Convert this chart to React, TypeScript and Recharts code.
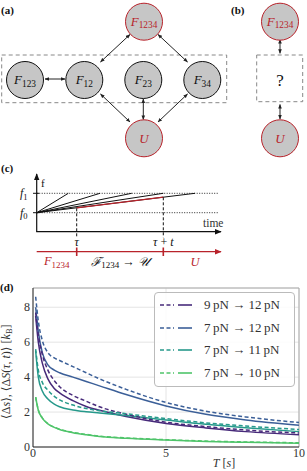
import React from 'react';
import { LineChart, Line, XAxis, YAxis, CartesianGrid, Legend, ReferenceLine } from 'recharts';

// ---- Panel (d) data ----
const T = [0.1, 0.2, 0.35, 0.56, 0.8, 1, 1.5, 2, 2.5, 3.5, 5, 6.5, 8, 10];
const purpleSolid = [7.5, 6.0, 4.8, 3.9, 3.35, 3.1, 2.65, 2.32, 2.1, 1.75, 1.35, 1.09, 0.88, 0.7];
const purpleDashed = [7.7, 6.4, 5.3, 4.4, 3.8, 3.45, 2.95, 2.62, 2.3, 1.88, 1.42, 1.17, 0.97, 0.8];
const blueSolid = [8.0, 6.6, 5.4, 4.7, 4.4, 4.25, 4.0, 3.75, 3.5, 3.0, 2.35, 1.87, 1.55, 1.25];
const blueDashed = [8.6, 7.2, 6.1, 5.4, 5.1, 4.95, 4.6, 4.25, 3.9, 3.3, 2.55, 2.05, 1.72, 1.4];
const tealSolid = [5.5, 4.0, 3.2, 2.75, 2.45, 2.3, 2.12, 2.02, 1.95, 1.8, 1.55, 1.3, 1.1, 0.88];
const tealDashed = [5.6, 4.4, 3.7, 3.25, 2.9, 2.7, 2.4, 2.2, 2.08, 1.9, 1.63, 1.38, 1.2, 1.0];
const greenSolid = [2.85, 2.1, 1.65, 1.32, 1.12, 1.0, 0.82, 0.7, 0.6, 0.5, 0.4, 0.32, 0.27, 0.22];
const greenDashed = [2.85, 2.12, 1.67, 1.34, 1.14, 1.02, 0.84, 0.72, 0.62, 0.52, 0.42, 0.34, 0.29, 0.24];

const seriesLabels = ['9\u2009pN \u2192 12\u2009pN', '7\u2009pN \u2192 12\u2009pN', '7\u2009pN \u2192 11\u2009pN', '7\u2009pN \u2192 10\u2009pN'];
const seriesColors = ['#472a7a', '#3b5f98', '#26998b', '#4fc46a'];
const xTicks = [0, 5, 10];
const yTicks = [0, 2, 4, 6, 8];

// ---- Panel (c) data ----
const rampEnds = [68.3, 100, 131.7, 163.3, 195];

const data = T.map((t, i) => ({
  T: t,
  s0: purpleSolid[i], d0: purpleDashed[i],
  s1: blueSolid[i], d1: blueDashed[i],
  s2: tealSolid[i], d2: tealDashed[i],
  s3: greenSolid[i], d3: greenDashed[i],
}));

const RED = '#b8232b';
const SERIF = '"Liberation Serif", "DejaVu Serif", serif';

function FLabel({ x, y, sub, color = '#111', size = 13 }: any) {
  return (
    <text x={x} y={y + size * 0.3} textAnchor="middle" fontFamily={SERIF} fontSize={size} fill={color}>
      <tspan fontStyle="italic">F</tspan>
      <tspan fontSize={size * 0.72} dy={size * 0.22}>{sub}</tspan>
    </text>
  );
}

function Node({ x, y, sub, red }: any) {
  return (
    <g>
      <circle cx={x} cy={y} r={18.5} fill="#c6c6c6" stroke={red ? RED : '#111'} strokeWidth={1} />
      <FLabel x={x} y={y} sub={sub} color={red ? RED : '#111'} />
    </g>
  );
}

function Arrow({ x1, y1, x2, y2 }: any) {
  return <line x1={x1} y1={y1} x2={x2} y2={y2} stroke="#222" strokeWidth={1} markerStart="url(#ah)" markerEnd="url(#ah)" />;
}

function Diagrams() {
  return (
    <svg width={307} height={471} style={{ position: 'absolute', left: 0, top: 0 }}>
      <defs>
        <marker id="ah" viewBox="0 0 10 10" refX="9" refY="5" markerWidth="4.5" markerHeight="4.5" orient="auto-start-reverse">
          <path d="M0,1 L10,5 L0,9 z" fill="#222" />
        </marker>
        <marker id="ahb" viewBox="0 0 10 10" refX="9" refY="5" markerWidth="6" markerHeight="6" orient="auto">
          <path d="M0,1 L10,5 L0,9 z" fill="#111" />
        </marker>
        <marker id="ahr" viewBox="0 0 10 10" refX="9" refY="5" markerWidth="6" markerHeight="6" orient="auto">
          <path d="M0,1 L10,5 L0,9 z" fill={RED} />
        </marker>
      </defs>
      {/* (a) */}
      <text x={1} y={14} fontFamily={SERIF} fontWeight="bold" fontSize={11} fill="#111">(a)</text>
      <rect x={1.7} y={55} width={225} height={47.7} fill="none" stroke="#888" strokeDasharray="4 3" strokeWidth={1} />
      <Arrow x1={45} y1={79} x2={65} y2={79} />
      <Arrow x1={130} y1={34.5} x2={100.5} y2={62} />
      <Arrow x1={158} y1={34.5} x2={187.5} y2={62} />
      <Arrow x1={100.5} y1={94} x2={130} y2={122} />
      <Arrow x1={143.3} y1={99} x2={143.3} y2={119.5} />
      <Arrow x1={187.5} y1={94} x2={158} y2={122} />
      <Node x={144} y={21.7} sub="1234" red />
      <Node x={25} y={80} sub="123" />
      <Node x={84.3} y={80} sub="12" />
      <Node x={143.3} y={80} sub="23" />
      <Node x={202.3} y={80} sub="34" />
      <circle cx={144} cy={138.3} r={18.5} fill="#c6c6c6" stroke={RED} strokeWidth={1} />
      <text x={144} y={142.5} textAnchor="middle" fontFamily={SERIF} fontStyle="italic" fontSize={13} fill={RED}>U</text>
      {/* (b) */}
      <text x={231} y={14} fontFamily={SERIF} fontWeight="bold" fontSize={11} fill="#111">(b)</text>
      <rect x={256.7} y={55} width={46} height={46.7} fill="none" stroke="#888" strokeDasharray="4 3" strokeWidth={1} />
      <Arrow x1={280} y1={39.5} x2={280} y2={53.3} />
      <Arrow x1={280} y1={104.5} x2={280} y2={119} />
      <Node x={280} y={21.7} sub="1234" red />
      <circle cx={280} cy={138.3} r={18.5} fill="#c6c6c6" stroke={RED} strokeWidth={1} />
      <text x={280} y={142.5} textAnchor="middle" fontFamily={SERIF} fontStyle="italic" fontSize={13} fill={RED}>U</text>
      <text x={280} y={85.5} textAnchor="middle" fontFamily={SERIF} fontSize={17} fill="#111">?</text>
      {/* (c) */}
      <text x={1} y={172} fontFamily={SERIF} fontWeight="bold" fontSize={11} fill="#111">(c)</text>
      <line x1={36.7} y1={193.3} x2={218.3} y2={193.3} stroke="#111" strokeWidth={0.9} strokeDasharray="1 1.5" />
      <line x1={36.7} y1={212.7} x2={218.3} y2={212.7} stroke="#111" strokeWidth={0.9} strokeDasharray="1 1.5" />
      {rampEnds.map((xe, i) => (
        <line key={i} x1={36.7} y1={212.7} x2={xe} y2={193.3} stroke="#111" strokeWidth={1} />
      ))}
      <line x1={76.7} y1={207.8} x2={163.3} y2={197.2} stroke={RED} strokeWidth={1.3} />
      <line x1={76.7} y1={208.3} x2={76.7} y2={237.5} stroke="#111" strokeWidth={1} strokeDasharray="3 2" />
      <line x1={163.3} y1={197.3} x2={163.3} y2={237.5} stroke="#111" strokeWidth={1} strokeDasharray="3 2" />
      <line x1={36.7} y1={231.7} x2={36.7} y2={174} stroke="#111" strokeWidth={1.2} markerEnd="url(#ahb)" />
      <line x1={36.2} y1={231.7} x2={221} y2={231.7} stroke="#111" strokeWidth={1.2} markerEnd="url(#ahb)" />
      <line x1={33} y1={193.3} x2={39} y2={193.3} stroke="#111" strokeWidth={1} />
      <line x1={33} y1={212.7} x2={39} y2={212.7} stroke="#111" strokeWidth={1} />
      <text x={41} y={187} fontFamily={SERIF} fontSize={11} fill="#111">f</text>
      <text x={20} y={197} fontFamily={SERIF} fontSize={12} fill="#111"><tspan fontStyle="italic">f</tspan><tspan fontSize={8.5} dy={2.5}>1</tspan></text>
      <text x={20} y={216.5} fontFamily={SERIF} fontSize={12} fill="#111"><tspan fontStyle="italic">f</tspan><tspan fontSize={8.5} dy={2.5}>0</tspan></text>
      <text x={203} y={227} fontFamily={SERIF} fontSize={11.5} fill="#333">time</text>
      <text x={76.7} y={245.5} textAnchor="middle" fontFamily={SERIF} fontStyle="italic" fontSize={12} fill="#111">τ</text>
      <text x={163.3} y={245.5} textAnchor="middle" fontFamily={SERIF} fontSize={12} fill="#111"><tspan fontStyle="italic">τ</tspan> + <tspan fontStyle="italic">t</tspan></text>
      <line x1={36.7} y1={251.7} x2={221} y2={251.7} stroke={RED} strokeWidth={1.2} markerEnd="url(#ahr)" />
      <line x1={76.7} y1={247.5} x2={76.7} y2={256} stroke={RED} strokeWidth={1.6} />
      <line x1={163.3} y1={247.5} x2={163.3} y2={256} stroke={RED} strokeWidth={1.6} />
      <FLabel x={56.7} y={261.7} sub="1234" color={RED} size={12.5} />
      <text x={120} y={265.5} textAnchor="middle" fontFamily={SERIF} fontSize={12.5} fill="#111">
        <tspan fontStyle="italic">ℱ</tspan><tspan fontSize={9} dy={2.5}>1234</tspan><tspan dy={-2.5}> → </tspan><tspan fontStyle="italic">𝒰</tspan>
      </text>
      <text x={195} y={265.5} textAnchor="middle" fontFamily={SERIF} fontStyle="italic" fontSize={12.5} fill={RED}>U</text>
      {/* (d) */}
      <text x={0} y={291} fontFamily={SERIF} fontWeight="bold" fontSize={11} fill="#111">(d)</text>
    </svg>
  );
}

function LegendBox() {
  return (
    <div style={{ width: 141, height: 95, border: '1px solid #bbb', borderRadius: 4, background: 'rgba(255,255,255,0.85)', boxSizing: 'border-box', position: 'relative' }}>
      {seriesLabels.map((lab, i) => (
        <div key={i} style={{ position: 'absolute', left: 0, top: 12.3 + i * 22.6 - 9, height: 18, width: 141, display: 'flex', alignItems: 'center' }}>
          <svg width={44} height={18} style={{ display: 'block' }}>
            <line x1={5} y1={9} x2={19} y2={9} stroke={seriesColors[i]} strokeWidth={1.6} strokeDasharray="4 2.5" />
            <line x1={23} y1={9} x2={37} y2={9} stroke={seriesColors[i]} strokeWidth={1.6} />
          </svg>
          <span style={{ fontFamily: SERIF, fontSize: 13, color: '#333', marginLeft: 5, whiteSpace: 'nowrap' }}>{lab}</span>
        </div>
      ))}
    </div>
  );
}

const YLabel = () => (
  <text transform="translate(9.5,91.7) rotate(-90)" textAnchor="middle" fontFamily={SERIF} fontSize={12} fill="#333">
    ⟨Δ<tspan fontStyle="italic">s</tspan>⟩, ⟨Δ<tspan fontStyle="italic">S</tspan>(<tspan fontStyle="italic">τ</tspan>, <tspan fontStyle="italic">t</tspan>)⟩ [<tspan fontStyle="italic">k</tspan><tspan fontSize={8.5} dy={2.5}>B</tspan><tspan dy={-2.5}>]</tspan>
  </text>
);

const XLabel = () => (
  <text x={224} y={187} textAnchor="middle" fontFamily={SERIF} fontSize={12} fill="#333">
    <tspan fontStyle="italic">T</tspan> [<tspan fontStyle="italic">s</tspan>]
  </text>
);

export default function App() {
  return (
    <div style={{ position: 'absolute', left: 0, top: 0, width: 307, height: 471, background: '#fff' }}>
      <Diagrams />
      <div style={{ position: 'absolute', left: 0, top: 280 }}>
        <LineChart width={307} height={191} data={data} margin={{ top: 8, right: 8, bottom: 0, left: 0 }}>
          <CartesianGrid stroke="#e4e4e4" strokeWidth={1} />
          <XAxis dataKey="T" type="number" domain={[0, 10]} ticks={xTicks} height={24} tickSize={0} tickMargin={1}
            axisLine={{ stroke: '#222' }} tick={{ fontFamily: SERIF, fontSize: 12, fill: '#333' }} label={{ content: () => <XLabel /> }} />
          <YAxis type="number" domain={[0, 9.1]} ticks={yTicks} width={33} tickSize={0} tickMargin={3}
            axisLine={{ stroke: '#222' }} tick={{ fontFamily: SERIF, fontSize: 12, fill: '#333' }} label={{ content: () => <YLabel /> }} />
          <ReferenceLine y={9.1} stroke="#aaa" />
          <ReferenceLine x={10} stroke="#aaa" />
          {[0, 1, 2, 3].map((k) => (
            <Line key={'s' + k} dataKey={'s' + k} type="monotone" stroke={seriesColors[k]} strokeWidth={1.5} dot={false} isAnimationActive={false} />
          ))}
          {[0, 1, 2, 3].map((k) => (
            <Line key={'d' + k} dataKey={'d' + k} type="monotone" stroke={seriesColors[k]} strokeWidth={1.5} strokeDasharray="4 2.5" dot={false} isAnimationActive={false} />
          ))}
          <Legend layout="vertical" align="center" verticalAlign="middle" content={() => <LegendBox />}
            wrapperStyle={{ position: 'absolute', left: 154, top: 11.7, width: 141, height: 95 }} />
        </LineChart>
      </div>
    </div>
  );
}
